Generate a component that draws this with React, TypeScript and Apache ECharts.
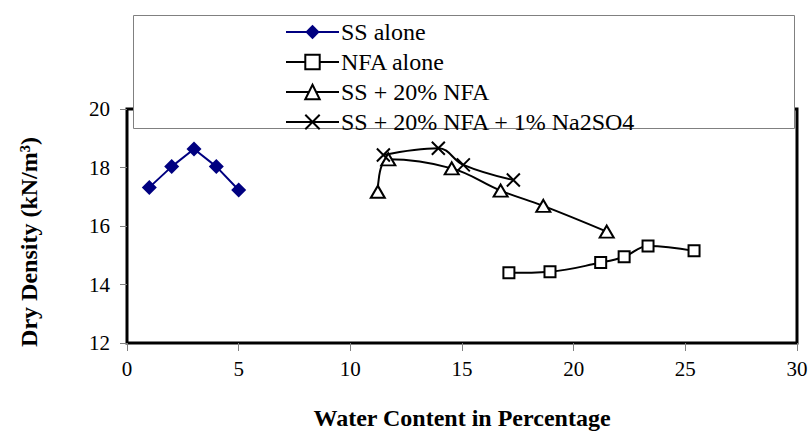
import React, { useEffect, useRef } from "react";
import * as echarts from "echarts";

const xTicks = { min: 0, max: 30, interval: 5 };
const yTicks = { min: 12, max: 20, interval: 2 };

const ssAloneX = [1, 2, 3, 4, 5];
const ssAloneY = [17.32, 18.03, 18.63, 18.03, 17.23];

const nfaAloneX = [17.1, 18.94, 21.21, 22.26, 23.33, 25.39];
const nfaAloneY = [14.4, 14.44, 14.75, 14.95, 15.32, 15.15];

const ss20X = [11.23, 11.7, 14.54, 16.73, 18.64, 21.48];
const ss20Y = [17.17, 18.28, 17.97, 17.21, 16.69, 15.81];

const ssNaX = [11.48, 13.94, 15.06, 17.3];
const ssNaY = [18.43, 18.66, 18.09, 17.57];

const seriesNames = [
  "SS alone",
  "NFA alone",
  "SS + 20% NFA",
  "SS + 20% NFA + 1% Na2SO4",
];

const zip = (xs: number[], ys: number[]) => xs.map((x, i) => [x, ys[i]]);

const FONT = "'Liberation Serif', 'Times New Roman', 'DejaVu Serif', serif";

export default function App() {
  const ref = useRef<HTMLDivElement>(null);
  useEffect(() => {
    if (!ref.current) return;
    document.body.style.margin = "0";
    const chart = echarts.init(ref.current, undefined, { renderer: "svg" });
    const hollow = {
      color: "#ffffff",
      borderColor: "#000000",
      borderWidth: 2,
    };
    chart.setOption({
      animation: false,
      backgroundColor: "#ffffff",
      textStyle: { fontFamily: FONT },
      grid: {
        left: 127,
        right: 13,
        top: 109,
        bottom: 89,
        outerBoundsMode: "none",
        containLabel: false,
        show: true,
        borderColor: "#000000",
        borderWidth: 3,
        backgroundColor: "transparent",
      },
      graphic: [
        {
          type: "rect",
          z: 3,
          shape: { x: 133.5, y: 15.5, width: 661, height: 113 },
          style: { fill: "#ffffff", stroke: "#808080", lineWidth: 1 },
        },
      ],
      legend: {
        z: 5,
        orient: "vertical",
        left: 280,
        top: 15,
        itemGap: 6,
        itemWidth: 53,
        itemHeight: 18,
        textStyle: { fontFamily: FONT, fontSize: 24, color: "#000000", padding: [0, 0, 0, -3] },
        data: seriesNames,
      },
      xAxis: {
        type: "value",
        min: xTicks.min,
        max: xTicks.max,
        interval: xTicks.interval,
        name: "Water Content in Percentage",
        nameLocation: "middle",
        nameGap: 63,
        nameTextStyle: {
          fontFamily: FONT,
          fontSize: 24,
          fontWeight: "bold",
          color: "#000000",
          verticalAlign: "top",
        },
        axisLine: { show: false },
        axisTick: { show: true, length: 8, lineStyle: { color: "#808080", width: 1 } },
        axisLabel: { fontFamily: FONT, fontSize: 21, color: "#000000", margin: 15 },
        splitLine: { show: false },
      },
      yAxis: {
        type: "value",
        min: yTicks.min,
        max: yTicks.max,
        interval: yTicks.interval,
        name: "Dry Density (kN/m³)",
        nameLocation: "middle",
        nameGap: 86,
        nameTextStyle: {
          fontFamily: FONT,
          fontSize: 24,
          fontWeight: "bold",
          color: "#000000",
          padding: [0, 32, 0, 0],
        },
        axisLine: { show: false },
        axisTick: { show: true, length: 7, lineStyle: { color: "#808080", width: 1 } },
        axisLabel: { fontFamily: FONT, fontSize: 21, color: "#000000", margin: 17 },
        splitLine: { show: false },
      },
      series: [
        {
          name: seriesNames[0],
          type: "line",
          data: zip(ssAloneX, ssAloneY),
          symbol: "diamond",
          symbolSize: 15,
          lineStyle: { color: "#000080", width: 2 },
          itemStyle: { color: "#000080" },
        },
        {
          name: seriesNames[1],
          type: "line",
          data: zip(nfaAloneX, nfaAloneY),
          smooth: 0.4,
          symbol: "rect",
          symbolSize: 11,
          lineStyle: { color: "#000000", width: 2 },
          itemStyle: hollow,
        },
        {
          name: seriesNames[2],
          type: "line",
          data: zip(ss20X, ss20Y),
          smooth: 0.4,
          symbol: "triangle",
          symbolSize: [14, 12],
          lineStyle: { color: "#000000", width: 2 },
          itemStyle: hollow,
        },
        {
          name: seriesNames[3],
          type: "line",
          data: zip(ssNaX, ssNaY),
          smooth: 0.4,
          symbol: "path://M0,0L10,10M10,0L0,10",
          symbolSize: 13,
          lineStyle: { color: "#000000", width: 2 },
          itemStyle: { color: "#000000", borderColor: "#000000", borderWidth: 2 },
        },
      ],
    });
    return () => chart.dispose();
  }, []);
  return <div ref={ref} style={{ width: 810, height: 432 }} />;
}
